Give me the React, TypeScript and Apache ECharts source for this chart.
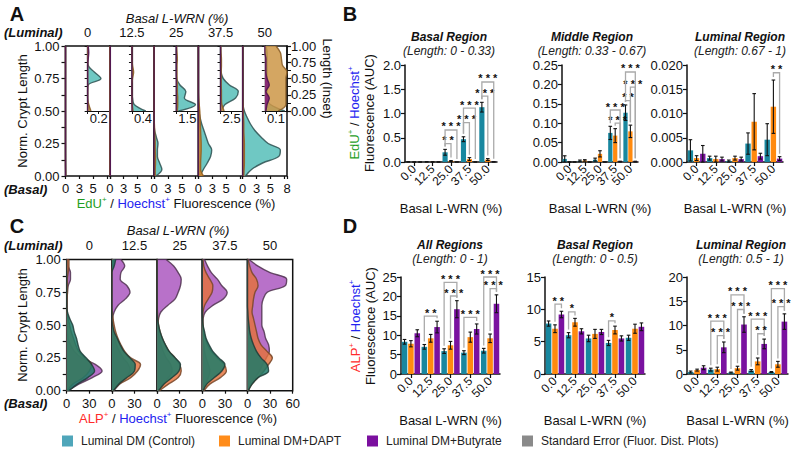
import React, { useEffect, useRef } from 'react';
import * as echarts from 'echarts';

const FONT = 'Liberation Sans, Arial, sans-serif';

// ---------- categories / labels ----------
const lengthCats = ['0.00','0.05','0.10','0.15','0.20','0.25','0.30','0.35','0.40','0.45','0.50','0.55','0.60','0.65','0.70','0.75','0.80','0.85','0.90','0.95','1.00'];
const insetCats = ['0.0','0.1','0.2','0.3','0.4','0.5','0.6','0.7','0.8','0.9','1.0'];
const wrnLevels = ['0','12.5','25','37.5','50'];
const barCats = ['0.0','12.5','25.0','37.5','50.0'];
const conditionNames = ['Luminal DM (Control)','Luminal DM+DAPT','Luminal DM+Butyrate'];
const seName = 'Standard Error (Fluor. Dist. Plots)';

// ---------- Panel A: EdU+/Hoechst+ distributions (x %, along lengthCats), one row per basal L-WRN level ----------
const eduControl = [
  [0.05,0.03,0.02,0.01,0,0,0,0,0,0,0,0,0,0,0,0,0,0,0,0,0],
  [0.08,0.05,0.03,0.02,0.01,0,0,0,0,0,0,0,0,0,0,0,0,0,0,0,0],
  [0.3,1.4,1.0,0.6,0.6,0.7,0.4,0.1,0,0,0,0,0,0,0,0,0,0,0,0,0],
  [0.3,0.9,1.6,2.2,2.4,1.8,1.4,1.0,0.6,0.3,0.1,0.02,0,0,0,0,0,0,0,0,0],
  [0.5,1.6,3.6,6.5,6.8,4.6,3.3,2.2,1.4,0.8,0.3,0.05,0,0,0,0,0,0,0,0,0],
];
const eduDapt = [
  [0.04,0.02,0,0,0,0,0,0,0,0,0,0,0,0,0,0,0,0,0,0,0],
  [0.03,0.02,0,0,0,0,0,0,0,0,0,0,0,0,0,0,0,0,0,0,0],
  [0.2,0.2,0.25,0.25,0.2,0.2,0.15,0.1,0.05,0,0,0,0,0,0,0,0,0,0,0,0],
  [0.9,0.4,0.4,0.45,0.5,0.5,0.45,0.4,0.35,0.3,0.25,0.15,0.05,0,0,0,0,0,0,0,0],
  [0.2,0.25,0.3,0.3,0.3,0.3,0.25,0.2,0.2,0.15,0.1,0.05,0,0,0,0,0,0,0,0,0],
];
const eduButyrate = [
  [0,0,0,0,0,0,0,0,0,0,0,0,0,0,0,0,0,0,0,0,0],
  [0.1,0.1,0.1,0.1,0.1,0.1,0.1,0.1,0.1,0.1,0.1,0.1,0.1,0.1,0.1,0.1,0.1,0.1,0.1,0.1,0.1],
  [0,0,0,0,0,0,0,0,0,0,0,0,0,0,0,0,0,0,0,0,0],
  [0,0,0,0,0,0,0,0,0,0,0,0,0,0,0,0,0,0,0,0,0],
  [0,0,0,0,0,0,0,0,0,0,0,0,0,0,0,0,0,0,0,0,0],
];
// insets (upper half, along insetCats)
const insetMax = [0.4, 0.8, 3, 5, 0.2];
const insetTick = [0.2, 0.4, 1.5, 2.5, 0.1];
const insetControl = [
  [0.04,0.01,0,0,0.01,0.24,0.12,0.01,0,0,0],
  [0.5,0.08,0.02,0,0,0,0,0,0,0,0],
  [0.3,2.6,1.1,1.3,0.5,0.05,0,0,0,0,0],
  [0.2,1.0,3.4,4.0,2.0,0.6,0.1,0,0,0,0],
  [0.18,0.05,0.02,0.02,0.02,0.02,0.02,0.02,0.02,0.02,0.01],
];
const insetDapt = [
  [0.06,0.02,0,0,0,0,0,0,0,0,0],
  [0.04,0.01,0,0,0,0.02,0.06,0.02,0,0,0],
  [0.15,0.2,0.2,0.15,0.15,0.1,0.1,0.1,0.15,0.1,0.05],
  [0.8,0.3,0.2,0.2,0.15,0.15,0.15,0.2,0.2,0.1,0.05],
  [0.12,0.19,0.19,0.19,0.19,0.19,0.2,0.16,0.15,0.14,0.1],
];
const insetButyrate = [
  [0,0,0,0,0,0,0,0,0.01,0.02,0.01],
  [0,0,0,0,0,0,0,0,0,0,0],
  [0,0,0,0,0,0,0,0,0,0,0],
  [0,0,0,0,0,0,0,0,0,0,0],
  [0.01,0.02,0.04,0.01,0.04,0.02,0.01,0.01,0.01,0,0],
];

// ---------- Panel C: ALP+/Hoechst+ distributions ----------
const alpControl = [
  [3,14,28,37,33,26,18,15,13,10,8,4,1,0,0,0,0,0,0,0,0],
  [2,9,20,30,31,24,16,11,7,3,1,0,0,0,0,0,0,0,0,3,5],
  [2,9,20,29,31,24,16,11,7,4,2,0.5,0,0,0,0,0,0,0,0,0],
  [1,6,16,26,30,22,14,9,5,3,1,0.3,0,0,0,0,0,0,0,0,0],
  [1,6,14,28,26,18,12,8,5,3,2,1,0.5,0,0,0,0,0,0,0,0],
];
const alpDapt = [
  [1,8,22,30,33,24,16,12,9,6,4,2,0.5,0.3,0.5,1,1,1,2,3,3],
  [2,10,25,34,38,25,17,12,8,5,3,1.5,0.5,0,0,0,0,0,0,1,2],
  [3,15,28,32,30,24,16,11,7,4,2,1,0.5,0,0,0,0,0,0,0,0],
  [2,10,24,32,29,20,12,7,4,2,1,0.5,1,3,8,13,14,10,5,2,1],
  [1,6,14,22,28,33,26,18,14,12,10,8,6,7,8,10,14,12,6,3,1],
];
const alpButyrate = [
  [2,16,34,47,38,20,10,5,2,1,0.5,0.3,0.3,0.3,0.5,1,2,5,5,2,1],
  [2,10,18,24,22,15,10,6,4,2,1,1,3,8,18,24,20,11,12,17,12],
  [2,8,15,20,18,12,8,5,3,2,1,2,5,14,24,28,31,32,28,22,12],
  [1,4,8,10,8,5,3,2,1,1,0.5,1,4,14,28,33,26,20,12,7,3],
  [1,4,10,16,20,25,29,28,24,22,19,19,19,19,21,26,50,52,30,14,2],
];

// ---------- Panel B: EdU AUC bars (rows: control, DAPT, butyrate) ----------
const eduBasalMean = [[0.002,0.003,0.2,0.47,1.13],[0,0.002,0.02,0.06,0.05],[0,0,0,0,0.003]];
const eduBasalSe = [[0.002,0.002,0.06,0.05,0.1],[0,0.002,0.01,0.03,0.02],[0,0,0,0,0.002]];
const eduBasalSig = [[2,0,1,0.38,'* *'],[2,0,2,0.66,'* * *'],[3,0,1,0.81,'* * *'],[3,0,2,1.11,'* * *'],[4,0,1,1.36,'* * *'],[4,0,2,1.65,'* * *']];
const eduMiddleMean = [[0.008,0.003,0.006,0.075,0.127],[0,0.004,0.021,0.068,0.079],[0,0,0,0.001,0.001]];
const eduMiddleSe = [[0.008,0.002,0.004,0.017,0.02],[0,0.002,0.008,0.018,0.016],[0,0,0,0.001,0.001]];
const eduMiddleSig = [[3,1,2,0.1,'* * *'],[3,0,2,0.134,'* * *'],[4,0,1,0.158,'* *'],[4,1,2,0.193,'* * *'],[4,0,2,0.232,'* * *']];
const eduLuminalMean = [[0.0024,0.0008,0.0002,0.0038,0.0046],[0.0008,0.0006,0.0008,0.0083,0.0114],[0.0017,0.0006,0.0006,0.0012,0.0007]];
const eduLuminalSe = [[0.0022,0.0004,0.0002,0.0022,0.0033],[0.0005,0.0006,0.0004,0.0058,0.0055],[0.0017,0.0004,0.0004,0.0006,0.0004]];
const eduLuminalSig = [[4,1,2,0.0184,'* *']];

// ---------- Panel D: ALP AUC bars ----------
const alpAllMean = [[8.3,7.0,5.9,5.5,6.0],[7.8,9.2,7.4,9.5,9.2],[10.5,12.1,16.7,11.6,18.1]];
const alpAllSe = [[0.6,0.6,0.6,0.5,0.6],[0.8,1.0,1.0,1.3,1.1],[0.9,1.5,2.2,1.3,2.3]];
const alpAllSig = [[1,0,2,14.9,'* *'],[2,0,2,23.6,'* * *'],[2,1,2,20.1,'* * *'],[3,0,2,14.6,'* * *'],[4,0,2,25.0,'* * *'],[4,1,2,22.0,'* * *']];
const alpBasalMean = [[7.8,6.0,5.5,4.8,5.6],[7.0,8.0,6.2,6.8,7.0],[9.2,6.6,6.5,5.5,7.3]];
const alpBasalSe = [[0.4,0.4,0.5,0.4,0.4],[0.6,0.6,0.7,0.6,0.7],[0.5,0.4,0.4,0.4,0.6]];
const alpBasalSig = [[0,1,2,10.8,'* *'],[1,0,1,9.6,'*'],[3,0,1,8.2,'*']];
const alpLuminalMean = [[0.4,0.9,0.3,0.7,0.4],[0.8,1.0,1.2,2.6,2.0],[1.3,5.5,10.2,6.2,10.8]];
const alpLuminalSe = [[0.2,0.3,0.1,0.2,0.1],[0.2,0.4,0.4,0.7,0.6],[0.4,1.1,1.6,1.0,1.6]];
const alpLuminalSig = [[1,0,2,10.9,'* * *'],[1,1,2,7.9,'* * *'],[2,0,2,16.3,'* * *'],[2,1,2,13.3,'* * *'],[3,0,2,11.3,'* * *'],[3,1,2,8.3,'* *'],[4,0,2,17.6,'* * *'],[4,1,2,13.9,'* * *']];

const BAR_COLORS = ['#18879f', '#ff8a0f', '#7a12a0'];
const LEGEND_COLORS = ['#4fa6ba', '#ff8c1a', '#7b0f9f', '#8a8a8a'];
const LEGEND_LEFTS = [62, 219, 367, 522];
const GREEN = '#1f9e1f';
const BLUE = '#2323f0';
const RED = '#ff2a2a';
const BAR_FRAC = 0.28;
const GAP_FRAC = 0.15;

function buildOption() {
  const grid: any[] = [];
  const xAxis: any[] = [];
  const yAxis: any[] = [];
  const series: any[] = [];
  const graphic: any[] = [];
  const addGrid = (g: any) => { grid.push({ outerBoundsMode: 'none', containLabel: false, ...g }); return grid.length - 1; };
  const addX = (a: any) => { xAxis.push(a); return xAxis.length - 1; };
  const addY = (a: any) => { yAxis.push(a); return yAxis.length - 1; };
  const lab = (o: any = {}) => ({ color: '#111', fontSize: 13, fontFamily: FONT, ...o });

  // ---------- distribution panels ----------
  function distPanel(cfg: any) {
    const { left, top, w, h, xMax, xInterval, labelFor, layers, withInsets } = cfg;
    for (let s = 0; s < 5; s++) {
      const gi = addGrid({ left: left + s * w, top, width: w, height: h, show: true, borderColor: '#111', borderWidth: 1.5, backgroundColor: 'transparent' });
      const xi = addX({
        type: 'value', gridIndex: gi, min: 0, max: xMax, interval: xInterval,
        axisLine: { show: false }, splitLine: { show: false },
        axisTick: { show: true, length: 3, lineStyle: { color: '#111', width: 1.2 } },
        axisLabel: lab({ margin: 6, showMaxLabel: true, formatter: (v: number) => labelFor(v, s) }),
      });
      addY({
        type: 'value', gridIndex: gi, position: 'left', min: 0, max: 1, interval: 0.25,
        axisLine: { show: false }, splitLine: { show: false },
        axisTick: { show: s === 0, length: 4, lineStyle: { color: '#111', width: 1.2 } },
        minorTick: { show: s === 0, splitNumber: 2, length: 4, lineStyle: { color: '#111', width: 1.2 } },
        axisLabel: lab({ show: s === 0, margin: 6, formatter: (v: number) => v.toFixed(2) }),
      });
      const yc = addY({ type: 'category', gridIndex: gi, position: 'left', data: lengthCats, boundaryGap: false, show: false });
      layers.forEach((L: any, k: number) => {
        series.push({
          type: 'line', name: 'dist-' + cfg.key + '-' + s + '-' + k, xAxisIndex: xi, yAxisIndex: yc,
          data: L.arrs[s], smooth: 0.35, showSymbol: false, symbol: 'none', silent: true, z: 2 + k,
          lineStyle: { color: L.line, width: 1.4 }, areaStyle: { color: L.fill, opacity: 1 },
        });
      });
      if (withInsets) {
        const ig = addGrid({ left: left + s * w + w / 2, top, width: w / 2, height: h / 2 });
        const t = insetTick[s];
        const ix = addX({
          type: 'value', gridIndex: ig, min: 0, max: insetMax[s], interval: t,
          axisLine: { show: true, lineStyle: { color: '#111', width: 1.2 } }, splitLine: { show: false },
          axisTick: { show: true, length: 3, lineStyle: { color: '#111' } },
          axisLabel: lab({ margin: 1, showMaxLabel: false, formatter: (v: number) => (Math.abs(v - t) < 1e-9 ? String(t) : '') }),
        });
        addY({
          type: 'value', gridIndex: ig, position: 'left', min: 0, max: 1, interval: 0.25,
          axisLine: { show: true, lineStyle: { color: '#111', width: 1.2 } }, splitLine: { show: false },
          axisTick: { show: true, length: 3, lineStyle: { color: '#111' } },
          minorTick: { show: true, splitNumber: 2, length: 3, lineStyle: { color: '#111' } },
          axisLabel: { show: false },
        });
        if (s === 4) {
          addY({
            type: 'value', gridIndex: ig, position: 'right', min: 0, max: 1, interval: 0.25,
            axisLine: { show: true, onZero: false, lineStyle: { color: '#111', width: 1.5 } }, splitLine: { show: false },
            axisTick: { show: true, length: 4, lineStyle: { color: '#111', width: 1.2 } },
            minorTick: { show: true, splitNumber: 2, length: 4, lineStyle: { color: '#111' } },
            axisLabel: lab({ margin: 4, formatter: (v: number) => v.toFixed(2) }),
            name: 'Length (Inset)', nameLocation: 'middle', nameRotate: -90, nameGap: 34,
            nameTextStyle: lab({}),
          });
        }
        const ic = addY({ type: 'category', gridIndex: ig, position: 'left', data: insetCats, boundaryGap: false, show: false });
        cfg.insetLayers.forEach((L: any, k: number) => {
          series.push({
            type: 'line', name: 'inset-' + s + '-' + k, xAxisIndex: ix, yAxisIndex: ic,
            data: L.arrs[s], smooth: 0.35, showSymbol: false, symbol: 'none', silent: true, z: 6 + k,
            lineStyle: { color: L.line, width: 1.4 }, areaStyle: { color: L.fill, opacity: 1 },
          });
        });
      }
    }
  }

  distPanel({
    key: 'A', left: 65.5, top: 46, w: 44.3, h: 130, xMax: 8, xInterval: 2.5, withInsets: true,
    labelFor: (v: number, s: number) => (v === 0 ? '0' : v === 2.5 ? '3' : v === 5 ? '5' : v === 8 && s === 4 ? '8' : ''),
    layers: [
      { arrs: eduControl, fill: 'rgba(86,190,185,0.85)', line: 'rgba(45,80,80,0.85)' },
      { arrs: eduDapt, fill: 'rgba(214,135,40,0.85)', line: 'rgba(150,95,30,0.9)' },
      { arrs: eduButyrate, fill: 'rgba(125,25,120,0.85)', line: 'rgba(80,20,80,0.9)' },
    ],
    insetLayers: [
      { arrs: insetControl, fill: 'rgba(86,190,185,0.85)', line: 'rgba(45,80,80,0.85)' },
      { arrs: insetDapt, fill: 'rgba(205,150,70,0.85)', line: 'rgba(140,95,40,0.9)' },
      { arrs: insetButyrate, fill: 'rgba(125,25,120,0.85)', line: 'rgba(80,20,80,0.9)' },
    ],
  });
  distPanel({
    key: 'C', left: 66.7, top: 259.5, w: 45.2, h: 131.2, xMax: 60, xInterval: 30, withInsets: false,
    labelFor: (v: number, s: number) => (v === 0 ? '0' : v === 30 ? '30' : v === 60 && s === 4 ? '60' : ''),
    layers: [
      { arrs: alpButyrate, fill: 'rgba(172,88,192,0.85)', line: 'rgba(80,50,80,0.85)' },
      { arrs: alpDapt, fill: 'rgba(228,114,60,0.82)', line: 'rgba(120,70,40,0.85)' },
      { arrs: alpControl, fill: 'rgba(30,122,104,0.85)', line: 'rgba(30,60,55,0.85)' },
    ],
  });

  // ---------- bar panels ----------
  function barPanel(p: any) {
    const gi = addGrid({ left: p.left, top: p.top, width: p.width, height: p.height });
    const xi = addX({
      type: 'category', gridIndex: gi, data: barCats,
      axisLine: { show: true, lineStyle: { color: '#111', width: 1.5 } },
      axisTick: { show: true, alignWithLabel: true, length: 4, lineStyle: { color: '#111', width: 1.2 } },
      axisLabel: lab({ rotate: 45, fontSize: 12, margin: 5, interval: 0 }),
      name: 'Basal L-WRN (%)', nameLocation: 'middle', nameGap: 40, nameTextStyle: lab({}),
    });
    const yi = addY({
      type: 'value', gridIndex: gi, min: 0, max: p.max, interval: p.interval,
      axisLine: { show: true, lineStyle: { color: '#111', width: 1.5 } }, splitLine: { show: false },
      axisTick: { show: true, length: 4, lineStyle: { color: '#111', width: 1.2 } },
      axisLabel: lab({ margin: 4, formatter: (v: number) => v.toFixed(p.dec) }),
    });
    for (let k = 0; k < 3; k++) {
      series.push({
        type: 'bar', name: conditionNames[k], xAxisIndex: xi, yAxisIndex: yi, data: p.mean[k],
        barWidth: BAR_FRAC * 100 + '%', barGap: GAP_FRAC * 100 + '%', silent: true, z: 2,
        itemStyle: { color: BAR_COLORS[k] },
      });
    }
    const errRows: number[][] = [];
    for (let c = 0; c < 5; c++) for (let k = 0; k < 3; k++) errRows.push([c, p.mean[k][c], p.se[k][c], k]);
    series.push({
      type: 'custom', coordinateSystem: 'cartesian2d', xAxisIndex: xi, yAxisIndex: yi, silent: true, z: 5, clip: false,
      encode: { x: 0, y: 1 }, data: errRows,
      renderItem: (params: any, api: any) => {
        const c = api.value(0), m = api.value(1), e = api.value(2), k = api.value(3);
        const band = api.size([1, 0])[0];
        const step = band * BAR_FRAC * (1 + GAP_FRAC);
        const x = api.coord([c, m])[0] + (k - 1) * step;
        const yT = api.coord([c, m + e])[1];
        const yB = api.coord([c, Math.max(0, m - e)])[1];
        const cap = 1.8;
        const st = { stroke: '#111', lineWidth: 1.1 };
        return {
          type: 'group', children: [
            { type: 'line', shape: { x1: x, y1: yT, x2: x, y2: yB }, style: st },
            { type: 'line', shape: { x1: x - cap, y1: yT, x2: x + cap, y2: yT }, style: st },
            { type: 'line', shape: { x1: x - cap, y1: yB, x2: x + cap, y2: yB }, style: st },
          ],
        };
      },
    });
    series.push({
      type: 'custom', coordinateSystem: 'cartesian2d', xAxisIndex: xi, yAxisIndex: yi, silent: true, z: 6, clip: false,
      encode: { x: 0, y: 1 }, data: p.sig.map((b: any[]) => [b[0], b[3]]),
      renderItem: (params: any, api: any) => {
        const b = p.sig[params.dataIndex];
        const c = b[0], ka = b[1], kb = b[2], lvl = b[3];
        const band = api.size([1, 0])[0];
        const step = band * BAR_FRAC * (1 + GAP_FRAC);
        const base = api.coord([c, lvl]);
        const xa = base[0] + (ka - 1) * step;
        const xb = base[0] + (kb - 1) * step;
        const yl = base[1];
        const ya = api.coord([c, p.mean[ka][c] + p.se[ka][c]])[1] - 3;
        const yb = api.coord([c, p.mean[kb][c] + p.se[kb][c]])[1] - 3;
        return {
          type: 'group', children: [
            { type: 'polyline', shape: { points: [[xa, ya], [xa, yl], [xb, yl], [xb, yb]] }, style: { stroke: '#aaaaaa', lineWidth: 1.3, fill: 'none' } },
            { type: 'text', style: { text: b[4], x: (xa + xb) / 2, y: yl + 2, align: 'center', verticalAlign: 'bottom', textAlign: 'center', textVerticalAlign: 'bottom', fill: '#111', fontSize: 11, fontWeight: 'bold', fontFamily: FONT } },
          ],
        };
      },
    });
  }

  barPanel({ left: 405, top: 65, width: 92, height: 97, max: 2, interval: 0.5, dec: 1, mean: eduBasalMean, se: eduBasalSe, sig: eduBasalSig });
  barPanel({ left: 562, top: 65, width: 76, height: 97, max: 0.25, interval: 0.05, dec: 2, mean: eduMiddleMean, se: eduMiddleSe, sig: eduMiddleSig });
  barPanel({ left: 687, top: 65, width: 96, height: 97, max: 0.02, interval: 0.005, dec: 3, mean: eduLuminalMean, se: eduLuminalSe, sig: eduLuminalSig });
  barPanel({ left: 401, top: 277, width: 99, height: 97, max: 25, interval: 5, dec: 0, mean: alpAllMean, se: alpAllSe, sig: alpAllSig });
  barPanel({ left: 545, top: 277, width: 100, height: 97, max: 15, interval: 5, dec: 0, mean: alpBasalMean, se: alpBasalSe, sig: alpBasalSig });
  barPanel({ left: 687, top: 277, width: 101, height: 97, max: 20, interval: 5, dec: 0, mean: alpLuminalMean, se: alpLuminalSe, sig: alpLuminalSig });

  // dummy series for the standard-error legend entry
  series.push({ type: 'line', name: seName, xAxisIndex: 0, yAxisIndex: 1, data: [], silent: true });

  // ---------- texts ----------
  const T = (x: number, y: number, text: string, o: any = {}) => ({
    type: 'text', x, y, rotation: o.rot || 0, silent: true, z: 50,
    style: {
      text, fill: o.color || '#111', fontSize: o.size || 13, fontFamily: FONT,
      fontWeight: o.weight || 'normal', fontStyle: o.style || 'normal',
      align: o.align || 'center', textAlign: o.align || 'center', verticalAlign: 'middle', textVerticalAlign: 'middle',
      rich: o.rich,
    },
  });
  const rich = (c1: string) => ({
    a: { fill: c1, fontSize: 13, fontFamily: FONT },
    as: { fill: c1, fontSize: 8, fontFamily: FONT, padding: [0, 0, 8, 0] },
    k: { fill: '#111', fontSize: 13, fontFamily: FONT },
    b: { fill: BLUE, fontSize: 13, fontFamily: FONT },
    bs: { fill: BLUE, fontSize: 8, fontFamily: FONT, padding: [0, 0, 8, 0] },
  });

  // panel letters
  graphic.push(T(17, 14, 'A', { size: 20, weight: 'bold' }));
  graphic.push(T(350, 14, 'B', { size: 20, weight: 'bold' }));
  graphic.push(T(17, 226, 'C', { size: 20, weight: 'bold' }));
  graphic.push(T(350, 226, 'D', { size: 20, weight: 'bold' }));

  // panel A texts
  graphic.push(T(177, 18, 'Basal L-WRN (%)', { style: 'italic' }));
  graphic.push(T(4, 32, '(Luminal)', { style: 'italic', weight: 'bold', align: 'left' }));
  graphic.push(T(4, 189, '(Basal)', { style: 'italic', weight: 'bold', align: 'left' }));
  wrnLevels.forEach((l, s) => graphic.push(T(65.5 + 44.3 * s + 22.15, 32, l)));
  graphic.push(T(22, 111, 'Norm. Crypt Length', { rot: Math.PI / 2 }));
  graphic.push(T(176, 203, '{a|EdU}{as|+}{k| / }{b|Hoechst}{bs|+}{k| Fluorescence (%)}', { rich: rich(GREEN) }));

  // panel C texts
  graphic.push(T(178, 230, 'Basal L-WRN (%)', { style: 'italic' }));
  graphic.push(T(4, 245, '(Luminal)', { style: 'italic', weight: 'bold', align: 'left' }));
  graphic.push(T(4, 403, '(Basal)', { style: 'italic', weight: 'bold', align: 'left' }));
  wrnLevels.forEach((l, s) => graphic.push(T(66.7 + 45.2 * s + 22.6, 245, l)));
  graphic.push(T(22, 325, 'Norm. Crypt Length', { rot: Math.PI / 2 }));
  graphic.push(T(178, 418, '{a|ALP}{as|+}{k| / }{b|Hoechst}{bs|+}{k| Fluorescence (%)}', { rich: rich(RED) }));

  // panel B/D y titles
  graphic.push(T(354, 113, '{a|EdU}{as|+}{k| / }{b|Hoechst}{bs|+}', { rot: Math.PI / 2, rich: rich(GREEN) }));
  graphic.push(T(369, 113, 'Fluorescence (AUC)', { rot: Math.PI / 2 }));
  graphic.push(T(355, 326, '{a|ALP}{as|+}{k| / }{b|Hoechst}{bs|+}', { rot: Math.PI / 2, rich: rich(RED) }));
  graphic.push(T(370, 326, 'Fluorescence (AUC)', { rot: Math.PI / 2 }));

  // bar titles
  const titles: [number, number, string, string][] = [
    [449, 37, 'Basal Region', '(Length: 0 - 0.33)'],
    [592, 37, 'Middle Region', '(Length: 0.33 - 0.67)'],
    [740, 37, 'Luminal Region', '(Length: 0.67 - 1)'],
    [450, 245, 'All Regions', '(Length: 0 - 1)'],
    [595, 245, 'Basal Region', '(Length: 0 - 0.5)'],
    [741, 245, 'Luminal Region', '(Length: 0.5 - 1)'],
  ];
  titles.forEach(([x, y, t, st]) => {
    graphic.push(T(x, y, t, { size: 12, weight: 'bold', style: 'italic' }));
    graphic.push(T(x, y + 14, st, { size: 12, style: 'italic', color: '#222' }));
  });

  const legendNames = [...conditionNames, seName];
  const legend = legendNames.map((n, i) => ({
    left: LEGEND_LEFTS[i], top: 435, itemWidth: 11, itemHeight: 11, icon: 'rect', selectedMode: false, padding: 0,
    textStyle: { fontSize: 12, color: '#222', fontFamily: FONT, padding: [0, 0, 0, 3] },
    data: [{ name: n, itemStyle: { color: LEGEND_COLORS[i] } }],
  }));

  return {
    animation: false,
    backgroundColor: '#ffffff',
    textStyle: { fontFamily: FONT },
    grid, xAxis, yAxis, series, graphic, legend,
    tooltip: { show: false },
  };
}

export default function App() {
  const ref = useRef<HTMLDivElement>(null);
  useEffect(() => {
    document.body.style.margin = '0';
    const chart = echarts.init(ref.current as HTMLDivElement, null, { renderer: 'svg' });
    chart.setOption(buildOption() as any);
    return () => chart.dispose();
  }, []);
  return <div ref={ref} style={{ width: 800, height: 454, background: '#fff' }} />;
}
